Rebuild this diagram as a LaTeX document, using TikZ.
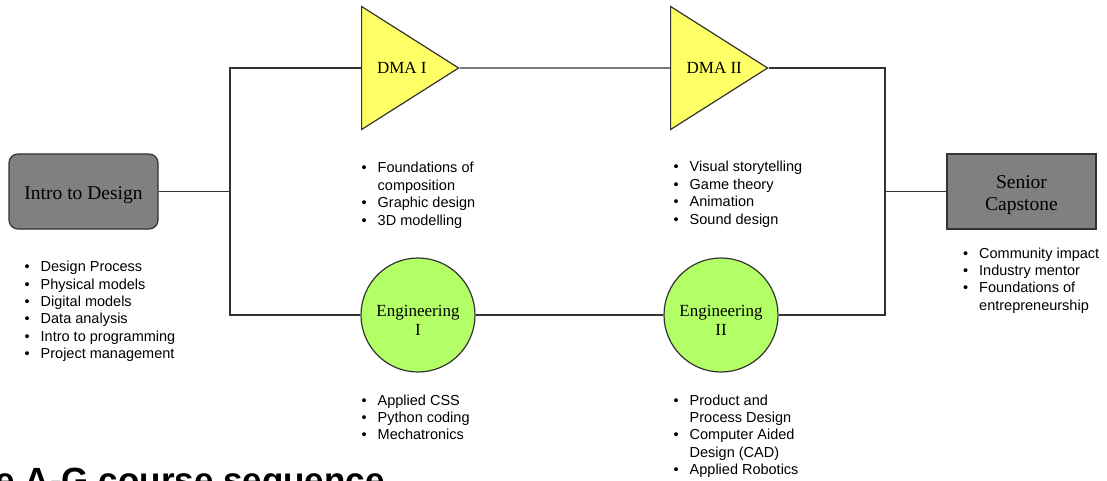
\documentclass[tikz,border=0pt]{standalone}
\usepackage{fontspec}
\setmainfont{Liberation Serif}
\newfontfamily\listfont{Liberation Sans}
\newfontfamily\titlefont{Liberation Sans}
\usetikzlibrary{shapes.geometric}

\definecolor{boxgray}{HTML}{808080}
\definecolor{dmayellow}{HTML}{FFFF66}
\definecolor{enggreen}{HTML}{B3FF66}
\definecolor{linegray}{HTML}{333333}

% bullet list: one row per printed line
\newcommand{\topics}[1]{{\listfont\fontsize{14.5}{17.4}\selectfont
  \begin{tabular}{@{}p{16pt}@{}l@{}}#1\end{tabular}}}

\begin{document}
\begin{tikzpicture}[x=1pt,y=-1pt,inner sep=0pt]
  \tikzstyle{course}=[draw=linegray,line width=1.2pt,text=black,align=center,
                      minimum width=149pt,minimum height=75pt,fill=boxgray,
                      font=\fontsize{19.5}{22}\selectfont]
  \tikzstyle{dma}=[draw=linegray,line width=1.2pt,fill=dmayellow,isosceles triangle,
                   isosceles triangle stretches,minimum width=123pt,minimum height=97pt,
                   anchor=lower side,font=\fontsize{17}{19}\selectfont]
  \tikzstyle{eng}=[draw=linegray,line width=1.2pt,fill=enggreen,circle,minimum size=114pt,
                   align=center,text height=40pt,text depth=0pt,
                   font=\fontsize{17}{19}\selectfont]
  \tikzstyle{link}=[draw=linegray,line width=1.2pt]

  \useasboundingbox (0,0) rectangle (1107,481);
  \clip (0,0) rectangle (1107,481);

  \node[course,rounded corners=9pt,text height=15.6pt,text depth=0pt]
                (ID) at (83.5,191.5)   {Intro to Design};
  \node[dma]    (DA) at (361,68)       {\hspace*{3pt}DMA I};
  \node[dma]    (DB) at (670,68)       {\hspace*{7pt}DMA II};
  \node[eng]    (EA) at (418,315)      {Engineering\\I};
  \node[eng]    (EB) at (721,315)      {Engineering\\II};
  \node[course,text height=42.7pt]
                (SC) at (1021.5,191.5) {Senior\\Capstone};

  \coordinate (L) at (230,191.5);
  \coordinate (R) at (885,191.5);

  \draw[link] (ID) -- (L);
  \draw[link] (DA) -| (L) |- (EA);
  \draw[link] (DA) -- (DB);
  \draw[link] (EA) -- (EB);
  \draw[link] (DB) -| (R) |- (EB);
  \draw[link] (R) -- (SC);

  \node[anchor=north west] (IDt) at (24.5,259.3) {\topics{
    \textbullet & Design Process\\ \textbullet & Physical models\\
    \textbullet & Digital models\\ \textbullet & Data analysis\\
    \textbullet & Intro to programming\\ \textbullet & Project management\\}};
  \node[anchor=north west] (DAt) at (361.5,160.5) {\topics{
    \textbullet & Foundations of\\ & composition\\
    \textbullet & Graphic design\\ \textbullet & 3D modelling\\}};
  \node[anchor=north west] (DBt) at (673.5,159.5) {\topics{
    \textbullet & Visual storytelling\\ \textbullet & Game theory\\
    \textbullet & Animation\\ \textbullet & Sound design\\}};
  \node[anchor=north west] (EAt) at (361.5,392.8) {\topics{
    \textbullet & Applied CSS\\ \textbullet & Python coding\\
    \textbullet & Mechatronics\\}};
  \node[anchor=north west] (EBt) at (673.5,392.8) {\topics{
    \textbullet & Product and\\ & Process Design\\
    \textbullet & Computer Aided\\ & Design (CAD)\\
    \textbullet & Applied Robotics\\}};
  \node[anchor=north west] (SCt) at (963,245.8) {\topics{
    \textbullet & Community impact\\ \textbullet & Industry mentor\\
    \textbullet & Foundations of\\ & entrepreneurship\\}};

  \node[anchor=base east,font=\titlefont\bfseries\fontsize{35}{40}\selectfont]
    (T) at (385,492) {e A-G course sequence};
\end{tikzpicture}
\end{document}
